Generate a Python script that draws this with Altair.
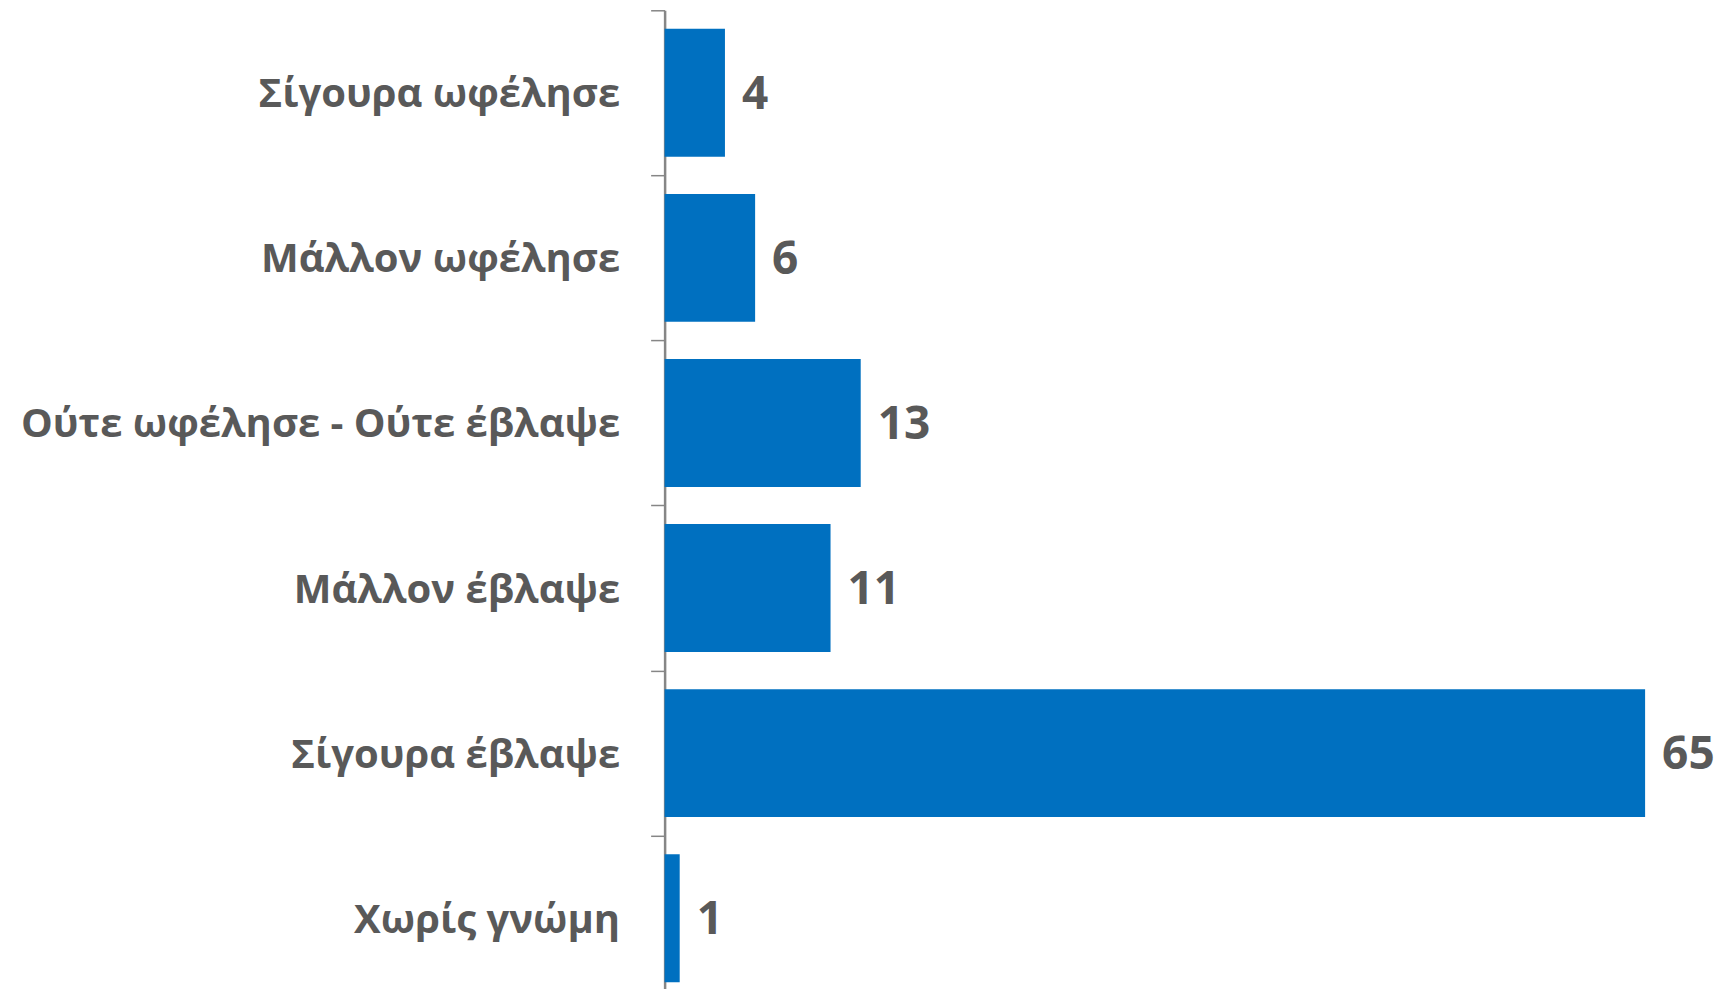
import altair as alt
import pandas as pd

categories = ["Σίγουρα ωφέλησε", "Μάλλον ωφέλησε", "Ούτε ωφέλησε - Ούτε έβλαψε",
              "Μάλλον έβλαψε", "Σίγουρα έβλαψε", "Χωρίς γνώμη"]
values = [4, 6, 13, 11, 65, 1]

df = pd.DataFrame({"cat": categories, "val": values})

FONT = "Open Sans"
TXT = "#595959"
STEP = 991 / 6

y = alt.Y("cat:N", sort=categories, title=None,
          scale=alt.Scale(paddingInner=0.225, paddingOuter=0.1125, range=[0, 991]),
          axis=alt.Axis(labelFont=FONT, labelFontSize=40, labelFontWeight="bold",
                        labelColor=TXT, labelPadding=31, tickSize=14,
                        tickOffset=-STEP / 2, labelOffset=STEP / 2 + 2,
                        tickColor="#868686", tickWidth=1.5, domainColor="#868686",
                        domainWidth=2.5, labelLimit=1000))
x = alt.X("val:Q", scale=alt.Scale(domain=[0, 69.7]), axis=None)

bars = alt.Chart(df).mark_bar(color="#0070C0").encode(x=x, y=y)
labels = alt.Chart(df).mark_text(align="left", baseline="middle", dx=17, dy=2, font=FONT,
                                 fontSize=46, fontWeight="bold", color=TXT).encode(
    x=x, y=y, text="val:Q")

chart = (bars + labels).properties(
    width=1052, height=979,
    autosize=alt.AutoSizeParams(type="none"),
    padding={"left": 657, "top": 2, "right": 0, "bottom": 0},
).configure_view(stroke=None)

chart.save("out.html", embed_options={"renderer": "svg", "actions": False})
